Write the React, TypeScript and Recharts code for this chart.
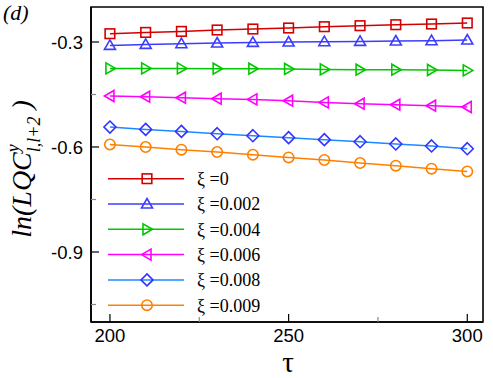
import React from 'react';
import { LineChart, Line, XAxis, YAxis, Legend, ReferenceArea } from 'recharts';

const tau = [200, 210, 220, 230, 240, 250, 260, 270, 280, 290, 300];

const xi0 = [-0.2763, -0.2726, -0.2697, -0.2657, -0.2629, -0.26, -0.2563, -0.2534, -0.2506, -0.2486, -0.2457];
const xi002 = [-0.3097, -0.3069, -0.3049, -0.3029, -0.3011, -0.3, -0.2991, -0.2983, -0.2971, -0.2963, -0.2943];
const xi004 = [-0.3754, -0.3754, -0.3754, -0.3763, -0.3763, -0.3771, -0.3783, -0.3791, -0.3791, -0.38, -0.3811];
const xi006 = [-0.4543, -0.4563, -0.4591, -0.462, -0.464, -0.4677, -0.4726, -0.4763, -0.4791, -0.482, -0.4857];
const xi008 = [-0.5429, -0.5497, -0.5554, -0.562, -0.5677, -0.5734, -0.5791, -0.5849, -0.5914, -0.5971, -0.6049];
const xi009 = [-0.5926, -0.6, -0.6077, -0.6143, -0.622, -0.6297, -0.6371, -0.6457, -0.6534, -0.662, -0.6697];

const xTicks = [200, 225, 250, 275, 300];
const xLabels = [200, 250, 300];
const yTicks = [-1.05, -0.9, -0.75, -0.6, -0.45, -0.3];
const yLabels = [-0.9, -0.6, -0.3];

const series = [
  { key: 's0', name: 'ξ =0', values: xi0, color: '#d40000', mark: '#d40000', shape: 'square' },
  { key: 's1', name: 'ξ =0.002', values: xi002, color: '#3c3cff', mark: '#3c3cff', shape: 'up' },
  { key: 's2', name: 'ξ =0.004', values: xi004, color: '#00c800', mark: '#00c800', shape: 'right' },
  { key: 's3', name: 'ξ =0.006', values: xi006, color: '#ff00ff', mark: '#ff00ff', shape: 'left' },
  { key: 's4', name: 'ξ =0.008', values: xi008, color: '#1e88ff', mark: '#3333ff', shape: 'diamond' },
  { key: 's5', name: 'ξ =0.009', values: xi009, color: '#ff8000', mark: '#ff8000', shape: 'circle' },
];

const data = tau.map((t, i) => {
  const row: Record<string, number> = { tau: t };
  series.forEach(s => { row[s.key] = s.values[i]; });
  return row;
});

function Marker({ shape, cx, cy, color }: { shape: string; cx: number; cy: number; color: string }) {
  const p = { fill: 'none', stroke: color, strokeWidth: 1.6 };
  switch (shape) {
    case 'square':
      return <rect x={cx - 4.8} y={cy - 4.8} width={9.6} height={9.6} {...p} />;
    case 'up':
      return <polygon points={`${cx},${cy - 5.5} ${cx + 5.5},${cy + 4} ${cx - 5.5},${cy + 4}`} {...p} />;
    case 'right':
      return <polygon points={`${cx + 5.5},${cy} ${cx - 4},${cy - 5.5} ${cx - 4},${cy + 5.5}`} {...p} />;
    case 'left':
      return <polygon points={`${cx - 5.5},${cy} ${cx + 4},${cy - 5.5} ${cx + 4},${cy + 5.5}`} {...p} />;
    case 'diamond':
      return <polygon points={`${cx},${cy - 6} ${cx + 6},${cy} ${cx},${cy + 6} ${cx - 6},${cy}`} {...p} />;
    default:
      return <circle cx={cx} cy={cy} r={5.2} {...p} />;
  }
}

const TICK_MARGIN = 8;

function YTick(props: any) {
  const { x, y, payload } = props;
  const ax = x + TICK_MARGIN;
  const major = yLabels.some(v => Math.abs(v - payload.value) < 1e-6);
  return (
    <g>
      <line x1={ax} x2={ax + (major ? 8 : 5)} y1={y} y2={y} stroke={major ? '#000' : '#888'} strokeWidth={1.2} />
      {major && (
        <text x={x} y={y} dy="0.36em" textAnchor="end" fontFamily="Liberation Sans" fontSize={18.5} fill="#000">
          {payload.value.toFixed(1)}
        </text>
      )}
    </g>
  );
}

function XTick(props: any) {
  const { x, y, payload } = props;
  const ay = y - TICK_MARGIN;
  const major = xLabels.includes(payload.value);
  return (
    <g>
      <line x1={x} x2={x} y1={ay} y2={ay - (major ? 8 : 5)} stroke={major ? '#000' : '#888'} strokeWidth={1.2} />
      {major && (
        <text x={x} y={y + 12} textAnchor="middle" fontFamily="Liberation Sans" fontSize={18.5} fill="#000">
          {payload.value}
        </text>
      )}
    </g>
  );
}

function LegendBox() {
  return (
    <svg width={180} height={160}>
      {series.map((s, i) => {
        const cy = 12.7 + 25.3 * i;
        return (
          <g key={s.key}>
            <line x1={8} x2={84} y1={cy} y2={cy} stroke={s.color} strokeWidth={1.5} />
            <Marker shape={s.shape} cx={47} cy={cy} color={s.mark} />
            <text x={97} y={cy} dy="0.35em" fontFamily="Liberation Serif" fontSize={18} fill="#000">
              {s.name}
            </text>
          </g>
        );
      })}
    </svg>
  );
}

export default function App() {
  return (
    <div style={{ position: 'absolute', left: 0, top: 0, width: 493, height: 378, background: '#fff' }}>
      <LineChart width={493} height={378} data={data} margin={{ top: 7, right: 10, left: 0, bottom: 0 }}>
        <XAxis
          dataKey="tau"
          type="number"
          domain={[194.7, 304.4]}
          allowDataOverflow
          ticks={xTicks}
          tick={<XTick />}
          tickLine={false}
          tickSize={0}
          tickMargin={TICK_MARGIN}
          height={56}
          axisLine={{ stroke: '#000', strokeWidth: 1.6 }}
          interval={0}
          label={{
            content: () => (
              <text x={288} y={371.8} textAnchor="middle" fontFamily="Liberation Serif" fontSize={29} fill="#000">
                τ
              </text>
            ),
          }}
        />
        <YAxis
          type="number"
          domain={[-1.1, -0.2]}
          allowDataOverflow
          ticks={yTicks}
          tick={<YTick />}
          tickLine={false}
          tickSize={0}
          tickMargin={TICK_MARGIN}
          width={91}
          axisLine={{ stroke: '#000', strokeWidth: 1.6 }}
          interval={0}
          label={{
            content: () => (
              <text
                x={31}
                y={169}
                transform="rotate(-90 31 169)"
                textAnchor="middle"
                fontFamily="Liberation Serif"
                fontStyle="italic"
                fontSize={28}
                fill="#000"
              >
                ln(LQC
                <tspan dy={-12} fontSize={18}>y</tspan>
                <tspan dx={-8} dy={21} fontSize={18}>l,l+2</tspan>
                <tspan dy={-9}> )</tspan>
              </text>
            ),
          }}
        />
        <ReferenceArea x1={194.7} x2={304.4} y1={-1.1} y2={-0.2} fill="none" stroke="#000" strokeWidth={1.6} fillOpacity={0} />
        {series.map(s => (
          <Line
            key={s.key}
            dataKey={s.key}
            name={s.name}
            stroke={s.color}
            strokeWidth={1.5}
            isAnimationActive={false}
            activeDot={false}
            dot={(p: any) => <Marker key={`${s.key}-${p.index}`} shape={s.shape} cx={p.cx} cy={p.cy} color={s.mark} />}
          />
        ))}
        <Legend
          layout="horizontal"
          verticalAlign="middle"
          content={() => <LegendBox />}
          wrapperStyle={{ position: 'absolute', left: 100, top: 166, width: 180, height: 160 }}
        />
      </LineChart>
      <div
        style={{
          position: 'absolute',
          top: 1,
          left: 3,
          fontFamily: 'Liberation Serif',
          fontStyle: 'italic',
          fontSize: 22,
          lineHeight: '24px',
        }}
      >
        (d)
      </div>
    </div>
  );
}
